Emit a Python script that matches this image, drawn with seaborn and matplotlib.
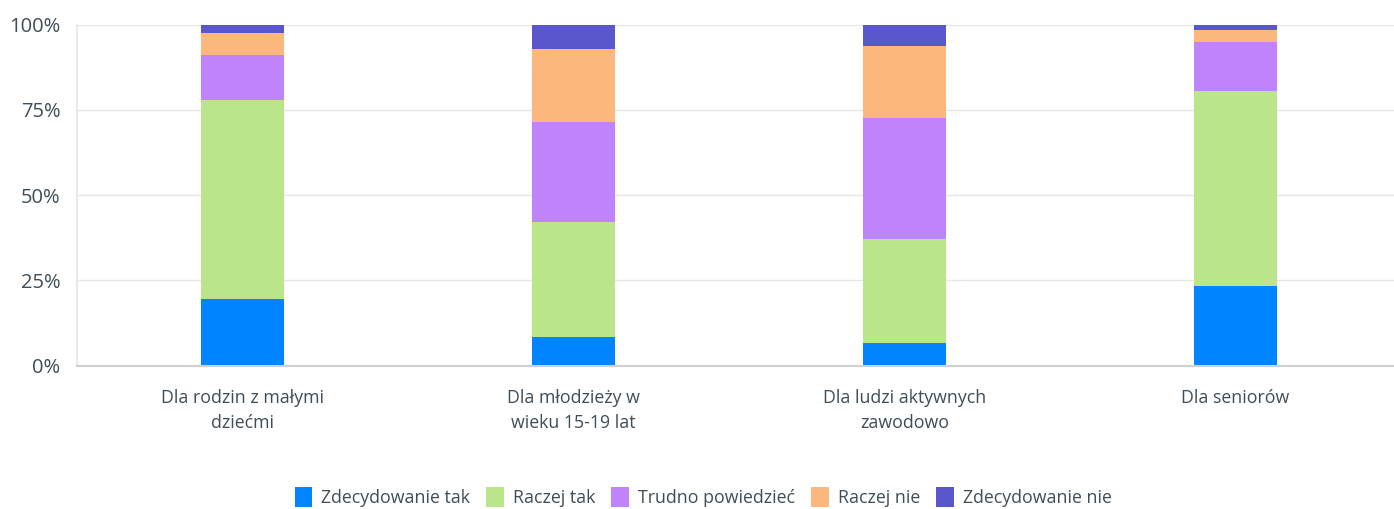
import matplotlib
matplotlib.use("Agg")
import matplotlib.pyplot as plt
import seaborn as sns
import pandas as pd
import numpy as np
from matplotlib.patches import Patch

categories = ["Dla rodzin z małymi\ndziećmi", "Dla młodzieży w\nwieku 15-19 lat",
              "Dla ludzi aktywnych\nzawodowo", "Dla seniorów"]
series_names = ["Zdecydowanie tak", "Raczej tak", "Trudno powiedzieć", "Raczej nie", "Zdecydowanie nie"]
zdecydowanie_tak = [19.5, 8.3, 6.6, 23.4]
raczej_tak = [58.4, 33.8, 30.5, 57.2]
trudno_powiedziec = [13.1, 29.4, 35.5, 14.3]
raczej_nie = [6.7, 21.3, 21.2, 3.5]
zdecydowanie_nie = [2.3, 7.2, 6.2, 1.6]
y_ticks = [0, 25, 50, 75, 100]
y_tick_labels = ["0%", "25%", "50%", "75%", "100%"]

colors = ["#0084FF", "#BAE58A", "#BF83FC", "#FCB87C", "#5A56CC"]

sns.set_theme(style="white")
plt.rcParams["font.family"] = ["Open Sans", "DejaVu Sans"]

W, H = 1394, 509
fig = plt.figure(figsize=(W / 100, H / 100), dpi=100)
ax = fig.add_axes([77 / W, 1 - 365.7 / H, (1401 - 77) / W, (365.7 - 24.7) / H])

all_series = [zdecydowanie_tak, raczej_tak, trudno_powiedziec, raczej_nie, zdecydowanie_nie]
bottom = np.zeros(len(categories))
for name, vals, col in zip(series_names, all_series, colors):
    df = pd.DataFrame({"cat": categories, "val": vals})
    sns.barplot(data=df, x="cat", y="val", order=categories, color=col, width=0.25,
                bottom=bottom, ax=ax, saturation=1, linewidth=0, errorbar=None)
    bottom = bottom + np.array(vals)

ax.set_ylim(0, 100)
ax.set_xlim(-0.5, 3.5)
ax.set_yticks(y_ticks)
ax.set_yticklabels(y_tick_labels)
ax.set_xlabel("")
ax.set_ylabel("")
ax.grid(axis="y", color="#e6e6e6", linewidth=1)
ax.set_axisbelow(True)
for s in ["top", "right"]:
    ax.spines[s].set_visible(False)
ax.spines["left"].set_color("#e6e6e6")
ax.spines["bottom"].set_color("#d0d0d0")
ax.spines["bottom"].set_linewidth(1.5)
ax.tick_params(axis="y", length=0, pad=12, labelsize=14.5, labelcolor="#3f4d57")
ax.tick_params(axis="x", length=0, pad=17, labelsize=12.8, labelcolor="#3f4d57")
for lbl in ax.get_xticklabels():
    lbl.set_linespacing(1.45)

handles = [Patch(facecolor=c, edgecolor="none") for c in colors]
fig.legend(handles, series_names, loc="center", bbox_to_anchor=(703 / W, 1 - 497 / H), ncol=5,
           frameon=False, fontsize=12.8, handlelength=1.0, handleheight=1.4, handletextpad=0.5,
           columnspacing=0.9, labelcolor="#3f4d57")

fig.savefig("out.png", dpi=100)
